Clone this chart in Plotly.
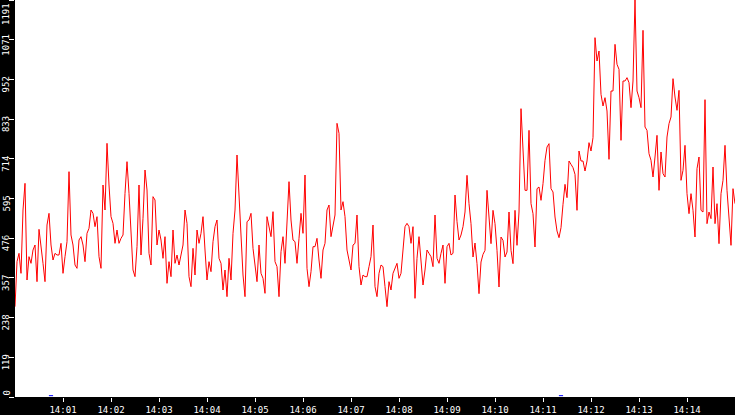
import pandas as pd
import plotly.graph_objects as go

# samples every 2.5 s from 14:00:00 to 14:15:00
start_time = "2024-01-01 14:00:00"
sample_step = "2500ms"

values = [
    271, 406, 431, 371, 561, 641, 351, 421, 401, 441, 456, 346, 503, 441, 401,
    346, 516, 551, 456, 411, 431, 426, 426, 461, 371, 421, 466, 676, 486, 456,
    396, 386, 471, 481, 456, 406, 491, 506, 561, 551, 511, 541, 421, 386, 636,
    561, 761, 636, 541, 521, 461, 501, 461, 476, 486, 611, 706, 611, 481, 381,
    361, 451, 636, 426, 536, 681, 621, 431, 396, 601, 591, 456, 501, 471, 416,
    481, 341, 406, 361, 501, 401, 426, 396, 426, 456, 561, 521, 361, 331, 446,
    366, 501, 461, 491, 541, 441, 351, 406, 376, 466, 511, 531, 416, 401, 321,
    381, 301, 416, 351, 491, 561, 726, 591, 471, 366, 301, 526, 531, 551, 446,
    386, 346, 456, 371, 356, 311, 541, 506, 481, 556, 406, 391, 301, 436, 481,
    401, 516, 646, 531, 471, 466, 401, 476, 551, 491, 666, 386, 331, 376, 451,
    451, 476, 411, 356, 441, 461, 561, 576, 481, 521, 546, 821, 791, 561, 586,
    541, 441, 411, 381, 456, 461, 546, 391, 336, 366, 361, 361, 391, 421, 516,
    331, 301, 371, 396, 391, 331, 271, 346, 321, 371, 386, 401, 356, 371, 441,
    511, 521, 511, 461, 511, 296, 416, 481, 416, 336, 381, 441, 431, 421, 391,
    546, 416, 401, 431, 456, 341, 451, 461, 426, 431, 606, 526, 471, 486, 511,
    555, 665, 580, 520, 420, 462, 400, 310, 405, 428, 440, 620, 540, 460, 560,
    520, 440, 330, 480, 470, 420, 435, 555, 440, 400, 560, 455, 555, 865, 760,
    620, 620, 800, 580, 550, 450, 625, 630, 590, 640, 710, 750, 760, 625, 615,
    540, 498, 478, 508, 578, 638, 598, 708, 698, 688, 668, 560, 738, 708, 708,
    678, 708, 763, 738, 778, 1078, 1008, 1038, 908, 873, 898, 858, 713, 918, 918,
    1058, 998, 983, 770, 948, 948, 958, 943, 868, 948, 1191, 918, 898, 868, 1100,
    810, 800, 730, 710, 660, 720, 785, 620, 735, 670, 660, 780, 820, 840, 955,
    900, 860, 920, 650, 680, 755, 610, 550, 610, 560, 480, 685, 720, 560, 555,
    892, 520, 555, 535, 690, 520, 580, 460, 610, 650, 755, 620, 530, 455, 625,
    580,
]

x_tick_labels = ["14:01", "14:02", "14:03", "14:04", "14:05", "14:06", "14:07",
                 "14:08", "14:09", "14:10", "14:11", "14:12", "14:13", "14:14"]
y_tick_vals = [0, 119.1, 238.2, 357.3, 476.4, 595.5, 714.6, 833.7, 952.8, 1071.9, 1191]
y_tick_text = ["0", "119", "238", "357", "476", "595", "714", "833", "952", "1071", "1191"]

event_times = ["2024-01-01 14:00:45", "2024-01-01 14:11:22.5"]
event_level = [4, 4]

times = pd.date_range(start_time, periods=len(values), freq=sample_step)
x_tick_vals = [pd.Timestamp("2024-01-01 " + t) for t in x_tick_labels]

font = "DejaVu Sans Mono"

fig = go.Figure()

fig.add_trace(go.Scatter(
    x=times,
    y=values,
    mode='lines',
    line=dict(color='#ff0000', width=1),
    hoverinfo='skip'
))

fig.add_trace(go.Scatter(
    x=event_times,
    y=event_level,
    mode='markers',
    marker=dict(symbol='line-ew', size=3, line=dict(color='#0000ff', width=1)),
    hoverinfo='skip'
))

# rotated y labels sit just below their tick; the end ones are kept inside
for i, (val, txt) in enumerate(zip(y_tick_vals, y_tick_text)):
    if i == 0:
        anchor, shift = 'bottom', 0
    elif i == len(y_tick_vals) - 1:
        anchor, shift = 'top', -2
    else:
        anchor, shift = 'middle', -5
    fig.add_annotation(
        x=0, xref='paper', xshift=-9,
        y=val, yref='y', yshift=shift,
        text=txt, textangle=-90,
        showarrow=False,
        xanchor='center',
        yanchor=anchor,
        borderpad=0,
        font=dict(family=font, size=9, color='white')
    )

fig.update_layout(
    width=735,
    height=415,
    margin=dict(l=15, r=0, t=0, b=16),
    paper_bgcolor='black',
    plot_bgcolor='white',
    showlegend=False,
    xaxis=dict(
        range=[pd.Timestamp("2024-01-01 14:00:00"), pd.Timestamp("2024-01-01 14:15:00")],
        tickvals=x_tick_vals,
        ticktext=x_tick_labels,
        ticks='outside',
        ticklen=4,
        tickwidth=1,
        tickcolor='white',
        tickfont=dict(family=font, size=9, color='white'),
        showgrid=False,
        zeroline=False,
        showline=False
    ),
    yaxis=dict(
        range=[0, 1191],
        tickvals=y_tick_vals,
        showticklabels=False,
        ticks='outside',
        ticklen=5,
        tickwidth=1,
        tickcolor='white',
        showgrid=False,
        zeroline=False,
        showline=False
    )
)

# the page's default body margin would shift the chart
fig.write_html("out.html", config={'displayModeBar': False},
               post_script="document.body.style.margin='0';")
